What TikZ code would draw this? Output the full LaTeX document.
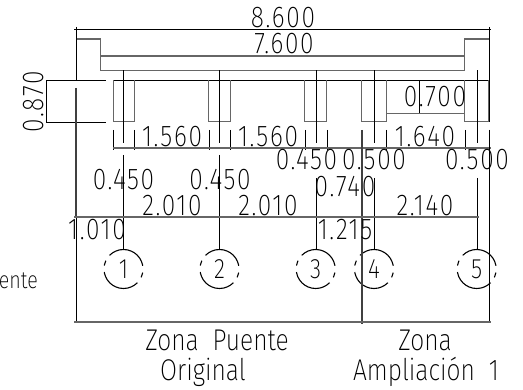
\documentclass[tikz,border=0pt]{standalone}
\usepackage{fontspec}
\setmainfont[FakeStretch=0.82,LetterSpace=5.7]{Fira Sans ExtraLight}
\newfontfamily\labelfamily[FakeStretch=0.82]{Fira Sans ExtraLight}
\usetikzlibrary{positioning}
\tikzset{
    x=1pt, y=-1pt,
    line width=1pt,
    grayline/.style={draw=black!60, line width=1.3pt},
    thickline/.style={draw=black!75, line width=1.8pt},
    dimtext/.style={font=\fontsize{30}{30}\selectfont, inner sep=0pt, anchor=base},
    labeltext/.style={font=\labelfamily\fontsize{30}{30}\selectfont, inner sep=0pt, anchor=base},
    axisbubble/.style={circle, draw, line width=1.1pt, minimum size=39pt, inner sep=0pt,
        font=\labelfamily\fontsize{28}{28}\selectfont,
        dash pattern=on 43pt off 6.5pt on 5.1pt off 6.5pt, dash phase=58pt},
}
\begin{document}
\begin{tikzpicture}
  \useasboundingbox (0,0) rectangle (523,390);

  % deck and parapets
  \draw (76.5,27) -- (76.5,80.5);
  \draw (489,27) -- (489,122);
  \draw (74,29) -- (491,29);
  \draw[grayline] (76.5,39) -- (100.5,39) -- (100.5,70.5) -- (464.7,70.5) -- (464.7,39) -- (489,39);
  \draw[grayline] (100.5,56) -- (464.7,56);
  \draw (113,80.5) -- (489,80.5);
  \draw (46,80.5) -- (106,80.5);
  \draw (46,122) -- (106,122);
  \draw (46.5,80.5) -- (46.5,122);

  % beams
  \foreach \xa/\xb in {113/134.3,208.7/230.3,304.7/326.7,361.7/386,464.7/488.7}
    \draw[grayline, line width=1pt] (\xa,80.5) -- (\xa,122) -- (\xb,122) -- (\xb,80.5);
  \foreach \xa in {113,134.3,208.7,230.3,304.7,326.7,386,464.7,488.7}
    \draw (\xa,130) -- (\xa,150);
  \draw[grayline] (113,148) -- (491,148);
  \draw[grayline] (386,113.5) -- (464.7,113.5);
  \draw (418.7,80.5) -- (418.7,113.5);

  % axis bubbles
  \node[axisbubble] (eje1) at (123.5,269) {1};
  \node[axisbubble] (eje2) at (219.5,269) {2};
  \node[axisbubble] (eje3) at (315.7,269) {3};
  \node[axisbubble] (eje4) at (374,269) {4};
  \node[axisbubble] (eje5) at (476.7,269) {5};
  \draw (123.5,70.5) -- (123.5,143);
  \draw (219.5,70.5) -- (219.5,143);
  \draw (315.7,70.5) -- (315.7,143);
  \draw (374,70.5) -- (374,143);
  \draw (476.7,70.5) -- (476.7,143);
  \draw (123.5,155) -- (eje1.north);
  \draw (219.5,155) -- (eje2.north);
  \draw (315.7,178) -- (eje3.north);
  \draw (374,178) -- (eje4.north);
  \draw (476.7,178) -- (eje5.north);

  % zone lines
  \draw[thickline] (76,88) -- (76,217);
  \draw (76.5,217) -- (76.5,322);
  \draw[thickline, line width=1.5pt] (362,130) -- (362,324);
  \draw (489,130) -- (489,322);
  \draw[grayline] (74,217) -- (479,217);
  \draw[grayline] (74,322) -- (491,322);

  % dimensions
  \node[dimtext] (d860) at (283,28) {8.600};
  \node[dimtext] (d760) at (284,54) {7.600};
  \node[dimtext, rotate=90, anchor=center] (d870) at (34,102) {0.870};
  \node[dimtext] (d1560a) at (172,147) {1.560};
  \node[dimtext] (d1560b) at (268,147) {1.560};
  \node[dimtext] (d1640) at (425,147) {1.640};
  \node[dimtext] (d700) at (435,107) {0.700};
  \node[dimtext] (d450a) at (123.5,190) {0.450};
  \node[dimtext] (d450b) at (220,190) {0.450};
  \node[dimtext] (d450c) at (306.5,170) {0.450};
  \node[dimtext] (d500a) at (374,170) {0.500};
  \node[dimtext] (d500b) at (477,170) {0.500};
  \node[dimtext] (d740) at (345,197) {0.740};
  \node[dimtext] (d2010a) at (172,216) {2.010};
  \node[dimtext] (d2010b) at (268,216) {2.010};
  \node[dimtext] (d2140) at (425,216) {2.140};
  \node[dimtext] (d1010) at (97,240) {1.010};
  \node[dimtext] (d1215) at (345,240) {1.215};

  % labels
  \node[labeltext, anchor=base east, font=\labelfamily\fontsize{24}{24}\selectfont] (puente) at (38,289) {ente};
  \node[labeltext] (zona1) at (217,351) {Zona~ Puente};
  \node[labeltext] (orig) at (203,381) {Original};
  \node[labeltext] (zona2) at (425,351) {Zona};
  \node[labeltext] (ampl) at (426,381) {Ampliación~ 1};
\end{tikzpicture}
\end{document}
